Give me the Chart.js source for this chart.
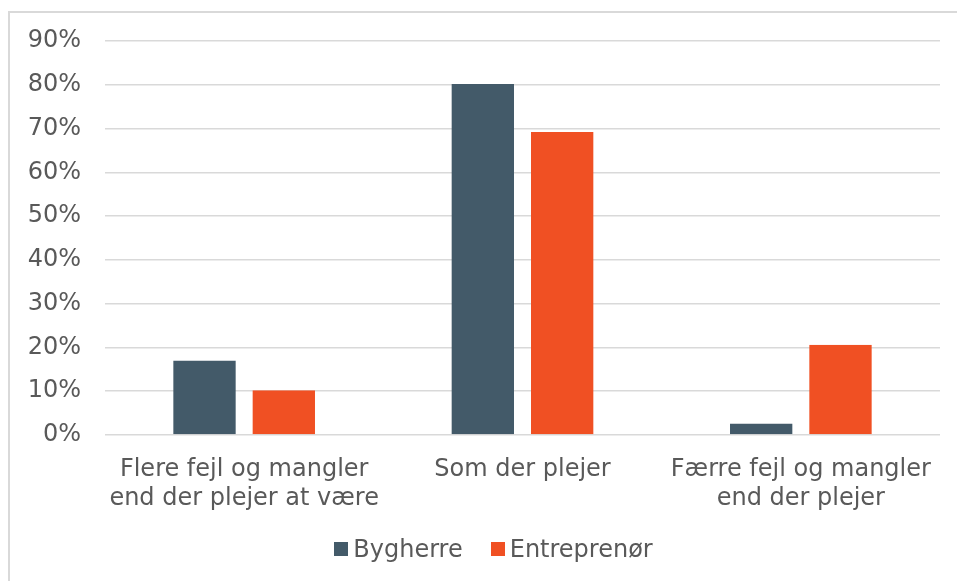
<!DOCTYPE html>
<html>
<head>
<meta charset="utf-8">
<script src="https://cdn.jsdelivr.net/npm/chart.js@4/dist/chart.umd.min.js"></script>
<style>
  html, body { margin: 0; padding: 0; background: #ffffff; overflow: hidden; }
  #wrap { position: relative; width: 957px; height: 581px; }
  #frame { position: absolute; left: 8px; top: 11px; width: 1000px; height: 700px;
           border-left: 2px solid #d9d9d9; border-top: 2px solid #d9d9d9; box-sizing: border-box; }
  #c { position: absolute; left: 0; top: 0; }
  #legend { position: absolute; left: 15px; top: 535px; width: 957px; display: flex; justify-content: center;
            font-family: "DejaVu Sans", Verdana, sans-serif; font-size: 24px; color: #595959; }
  .item { display: flex; align-items: center; margin: 0 14px; }
  .box { width: 14px; height: 14px; margin-right: 5px; }
</style>
</head>
<body>
<div id="wrap">
  <div id="frame"></div>
  <canvas id="c" width="957" height="581"></canvas>
  <div id="legend"></div>
</div>
<script>
const categories = [
  ["Flere fejl og mangler", "end der plejer at være"],
  ["Som der plejer"],
  ["Færre fejl og mangler", "end der plejer"]
];
const seriesNames = ["Bygherre", "Entreprenør"];
const bygherre = [17, 80.2, 2.6];
const entreprenor = [10.2, 69.2, 20.6];
const yTicks = [0, 10, 20, 30, 40, 50, 60, 70, 80, 90];
const colors = ["#435A69", "#F05023"];

const FONT = "'DejaVu Sans', Verdana, sans-serif";
const TXT = "#595959";

const barBorder = { top: 0, bottom: 0, left: 8.5, right: 8.5 };

new Chart(document.getElementById('c'), {
  type: 'bar',
  data: {
    labels: categories,
    datasets: [
      { label: seriesNames[0], data: bygherre, backgroundColor: colors[0],
        borderColor: 'rgba(0,0,0,0)', borderWidth: barBorder, borderSkipped: false },
      { label: seriesNames[1], data: entreprenor, backgroundColor: colors[1],
        borderColor: 'rgba(0,0,0,0)', borderWidth: barBorder, borderSkipped: false }
    ]
  },
  options: {
    responsive: false,
    animation: false,
    events: [],
    layout: { padding: { left: 0, right: 17, top: 41, bottom: 46 } },
    datasets: { bar: { barPercentage: 1, categoryPercentage: 0.57 } },
    plugins: { legend: { display: false }, tooltip: { enabled: false } },
    scales: {
      x: {
        grid: { display: false },
        border: { display: false },
        ticks: { color: TXT, font: { family: FONT, size: 24, lineHeight: 1.22 }, padding: 12, maxRotation: 0, autoSkip: false },
        afterFit: s => { s.height = 100; }
      },
      y: {
        min: 0, max: 90,
        afterBuildTicks: s => { s.ticks = yTicks.map(v => ({ value: v })); },
        grid: { color: '#d9d9d9', lineWidth: 1.5, drawTicks: false },
        border: { display: false },
        ticks: { color: TXT, font: { family: FONT, size: 24 }, padding: 24, callback: v => v + '%' },
        afterFit: s => { s.width = 105; }
      }
    }
  }
});

const leg = document.getElementById('legend');
seriesNames.forEach((n, i) => {
  const it = document.createElement('div'); it.className = 'item';
  const b = document.createElement('div'); b.className = 'box'; b.style.background = colors[i];
  const t = document.createElement('span'); t.textContent = n;
  it.appendChild(b); it.appendChild(t); leg.appendChild(it);
});
</script>
</body>
</html>
